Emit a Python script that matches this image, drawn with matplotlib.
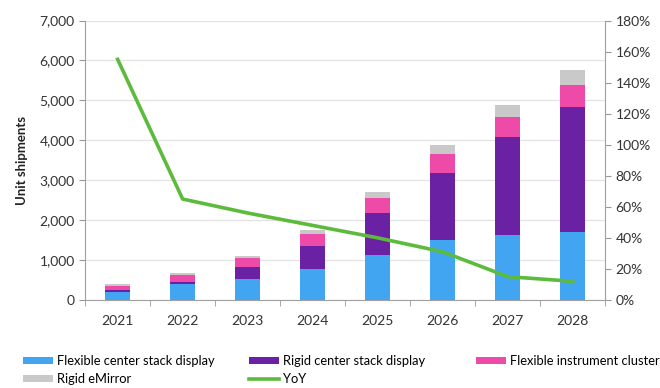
import matplotlib.pyplot as plt
import numpy as np
from matplotlib.ticker import FuncFormatter, FixedLocator

plt.rcParams["font.family"] = ["Lato", "DejaVu Sans"]

# ---------------------------------------------------------------------------
# DATA
# ---------------------------------------------------------------------------
years = ["2021", "2022", "2023", "2024", "2025", "2026", "2027", "2028"]
flex_center = [200, 400, 535, 785, 1130, 1490, 1620, 1710]
rigid_center = [60, 60, 285, 575, 1060, 1685, 2455, 3135]
flex_cluster = [90, 160, 225, 290, 360, 485, 520, 545]
rigid_emirror = [40, 50, 65, 90, 150, 215, 285, 375]
yoy = [155, 65, 56, 48, 40, 31, 15, 12]  # percent

series = [
    ("Flexible center stack display", flex_center, "#42a5f2"),
    ("Rigid center stack display", rigid_center, "#6a21a3"),
    ("Flexible instrument cluster", flex_cluster, "#ee4ba9"),
    ("Rigid eMirror", rigid_emirror, "#c9c9c9"),
]

# ---------------------------------------------------------------------------
# PLOT
# ---------------------------------------------------------------------------
fig = plt.figure(figsize=(6.6, 3.88), dpi=100)
ax = fig.add_axes([0.129, 0.227, 0.788, 0.72])
x = np.arange(len(years))

handles = []
bottom = np.zeros(len(years))
for name, vals, col in series:
    h = ax.bar(x, vals, width=0.39, bottom=bottom, color=col, label=name, zorder=3)
    bottom += np.array(vals)
    handles.append(h)

ax.set_ylim(0, 7000)
ax.set_xlim(-0.5, len(years) - 0.5)
ax.set_yticks(np.arange(0, 7001, 1000))
ax.yaxis.set_major_formatter(FuncFormatter(lambda v, p: f"{int(v):,}"))
ax.set_ylabel("Unit shipments", fontsize=9.5, fontweight="bold", color="#222222", labelpad=8)
ax.grid(axis="y", color="#e3e3e3", linewidth=0.9, zorder=0)

ax.set_xticks(x)
ax.set_xticklabels(years)
ax.xaxis.set_minor_locator(FixedLocator(np.arange(-0.5, len(years), 1.0)))
ax.tick_params(axis="x", which="major", length=0, pad=11, labelsize=10, colors="#333333")
ax.tick_params(axis="x", which="minor", length=4, color="#999999", direction="out")
ax.tick_params(axis="y", length=4, color="#999999", labelsize=10, colors="#333333")
for s in ["top", "right"]:
    ax.spines[s].set_visible(False)
for s in ["left", "bottom"]:
    ax.spines[s].set_color("#a0a0a0")

ax2 = ax.twinx()
line, = ax2.plot(x, yoy, color="#5cbb3c", linewidth=2.6, label="YoY", zorder=4)
ax2.set_ylim(0, 180)
ax2.set_yticks(np.arange(0, 181, 20))
ax2.yaxis.set_major_formatter(FuncFormatter(lambda v, p: f"{int(v)}%"))
ax2.tick_params(axis="y", length=4, color="#999999", labelsize=10, colors="#333333")
for s in ["top", "left", "bottom"]:
    ax2.spines[s].set_visible(False)
ax2.spines["right"].set_color("#a0a0a0")

# legend: three columns placed like the original (uneven widths)
columns = [
    (23, [handles[0], handles[3]]),
    (249, [handles[1], line]),
    (476, [handles[2]]),
]
for xpix, hs in columns:
    fig.legend(hs, [h.get_label() for h in hs], loc="upper left",
               bbox_to_anchor=(xpix / 660, 1 - 355 / 388), frameon=False,
               fontsize=9.3, handlelength=2.3, handleheight=0.45,
               labelspacing=0.5, handletextpad=0.3, borderpad=0,
               borderaxespad=0)

fig.savefig("out.png", dpi=100)
